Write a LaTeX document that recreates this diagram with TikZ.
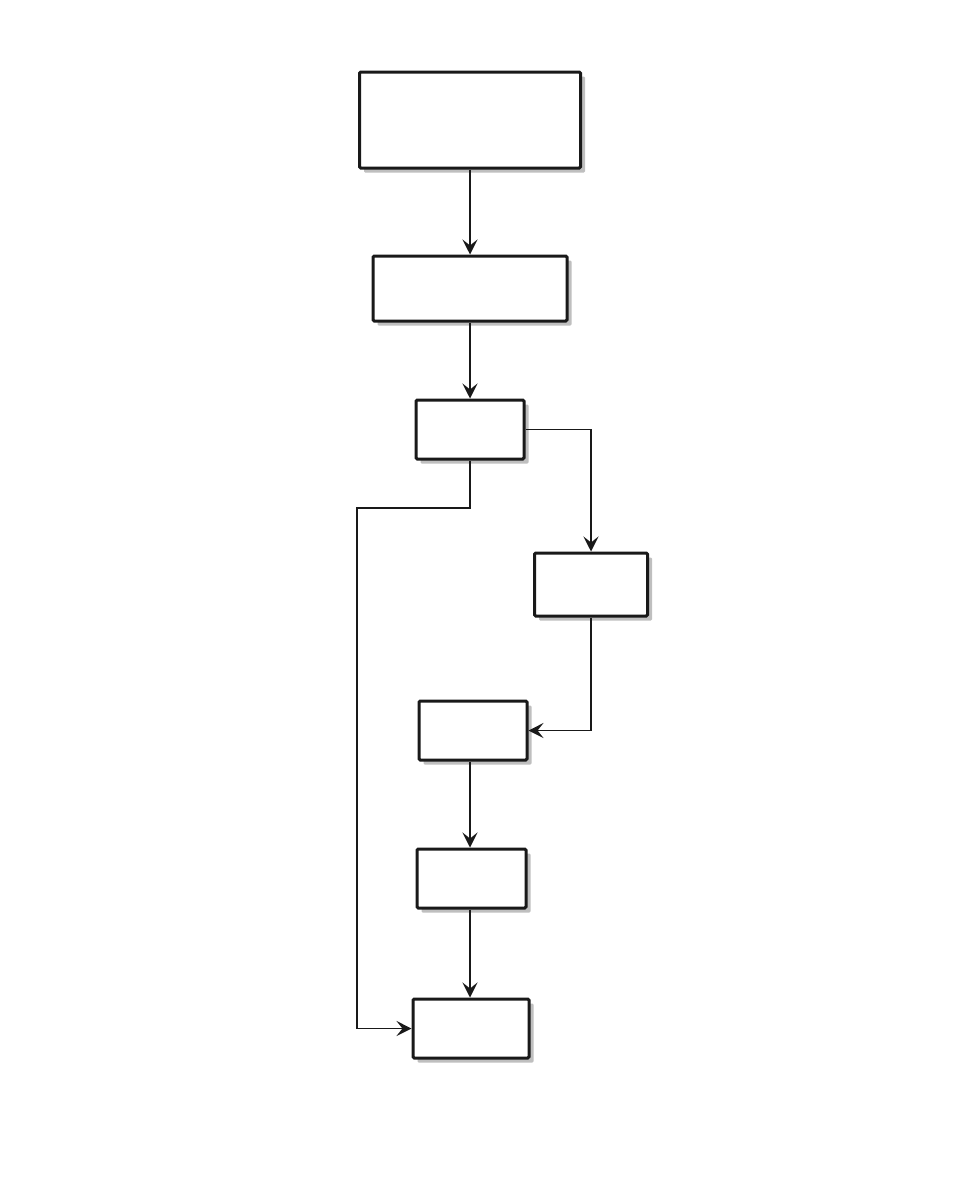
\documentclass[tikz,border=0pt]{standalone}
\usetikzlibrary{arrows.meta,shadows}
\begin{document}
\begin{tikzpicture}[x=1pt,y=-1pt,
  stagebox/.style={draw=black!90,line width=3pt,rounded corners=1.2pt,fill=white,inner sep=0pt,
    drop shadow={shadow xshift=4.5pt,shadow yshift=-4.5pt,fill=black!25,opacity=1}},
  link/.style={draw=black!90,line width=1.3pt,-{Stealth[length=15pt,width=15pt,inset=6pt]}}]
  \useasboundingbox (0,0) rectangle (954,1202);
  \node[stagebox,minimum width=221pt,minimum height=96pt] (top) at (470,120) {};
  \node[stagebox,minimum width=194pt,minimum height=65pt] (second) at (470,288.5) {};
  \node[stagebox,minimum width=108pt,minimum height=59pt] (split) at (470,429.5) {};
  \node[stagebox,minimum width=113pt,minimum height=63pt] (side) at (591,584.5) {};
  \node[stagebox,minimum width=108pt,minimum height=59pt] (back) at (473,730.5) {};
  \node[stagebox,minimum width=109pt,minimum height=59pt] (next) at (471.5,878.5) {};
  \node[stagebox,minimum width=116pt,minimum height=59pt] (last) at (471,1028.5) {};
  \coordinate (bend) at (357,508);
  \draw[link] (top) -- (second);
  \draw[link] (second) -- (split);
  \draw[link] (split.east) -| (side.north);
  \draw[link] (side.south) |- (back.east);
  \draw[link] (split.south |- back.south) -- (split.south |- next.north);
  \draw[link,line width=1.8pt] (split.south |- next.south) -- (split.south |- last.north);
  \draw[link] (split.south) |- (bend) |- (last.west);
\end{tikzpicture}
\end{document}
